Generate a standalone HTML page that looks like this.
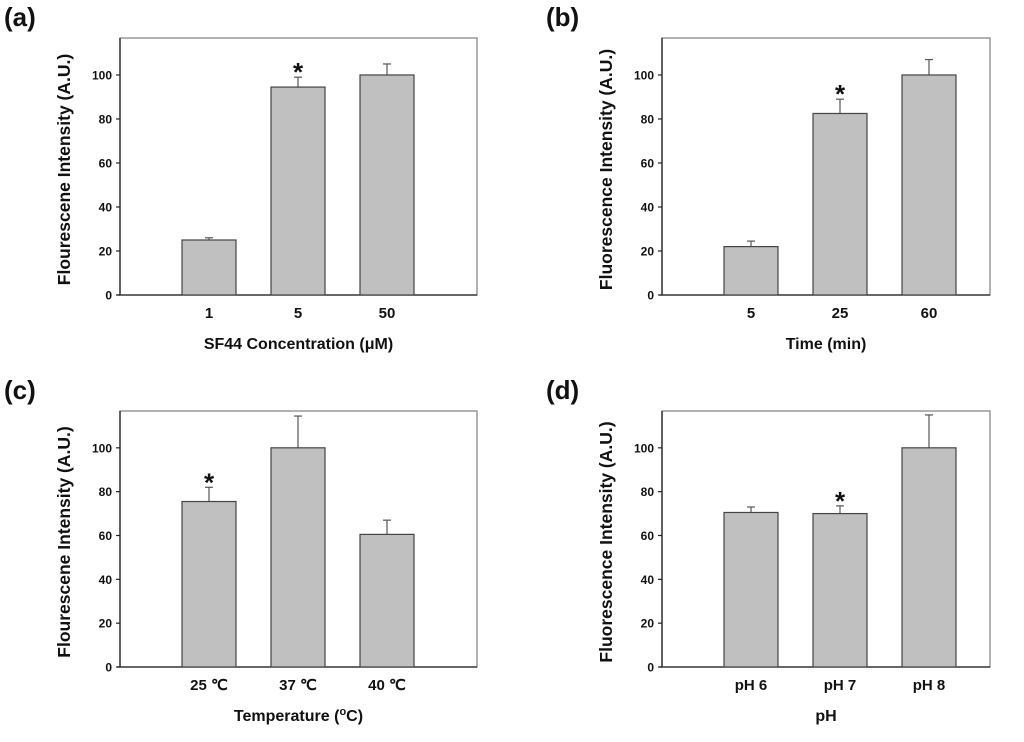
<!DOCTYPE html>
<html><head><meta charset="utf-8"><style>
body{margin:0;background:#fff;}
svg text{font-family:"Liberation Sans",Arial,sans-serif;font-weight:bold;fill:#111;}
</style></head><body>
<svg id="fig" width="1024" height="737" viewBox="0 0 1024 737" xmlns="http://www.w3.org/2000/svg"></svg>
<script>
const catsA=["1","5","50"], valsA=[25,94.5,100], errA=[1,4.5,5], starA=[false,true,false];
const catsB=["5","25","60"], valsB=[22,82.5,100], errB=[2.5,6.5,7], starB=[false,true,false];
const catsC=["25 ℃","37 ℃","40 ℃"], valsC=[75.5,100,60.5], errC=[6.5,14.5,6.5], starC=[true,false,false];
const catsD=["pH 6","pH 7","pH 8"], valsD=[70.5,70,100], errD=[2.5,3.5,15], starD=[false,true,false];
const yTicks=[0,20,40,60,80,100];

const NS="http://www.w3.org/2000/svg";
const svg=document.getElementById('fig');
function mk(tag,attrs,parent,text){const e=document.createElementNS(NS,tag);for(const k in attrs)e.setAttribute(k,attrs[k]);if(text!==undefined)e.textContent=text;(parent||svg).appendChild(e);return e;}

function panel(id,letter,lx,ly,x0,x1,yTop,yBot,cats,vals,errs,stars,ytitle,xtitle,sup){
  const g=mk('g',{});
  
  
  const yMax=116.8;
  const ys=v=>yBot-(v/yMax)*(yBot-yTop);
  const slot=89, bw=54, first=x0+62;
  const xs=i=>first+i*slot;
  const lab=mk('text',{x:lx,y:ly,'font-size':26},g,letter);
  
  
  const frame=mk('rect',{x:x0,y:yTop,width:x1-x0,height:yBot-yTop,fill:'none',stroke:'#888','stroke-width':1.3},g);
  
  
  mk('line',{x1:x0,y1:yTop,x2:x0,y2:yBot,stroke:'#222','stroke-width':1.3},g);
  mk('line',{x1:x0-3,y1:yBot,x2:x1,y2:yBot,stroke:'#222','stroke-width':1.3},g);
  yTicks.forEach(t=>{
    mk('line',{x1:x0-4,y1:ys(t),x2:x0,y2:ys(t),stroke:'#222','stroke-width':1.2},g);
    const tl=mk('text',{x:x0-8,y:ys(t)+4.5,'font-size':12,'text-anchor':'end'},g,String(t));
    
    
  });
  vals.forEach((v,i)=>{
    const xl=xs(i), top=ys(v), et=ys(v+errs[i]), cx=xl+bw/2;
    mk('line',{x1:cx,y1:top,x2:cx,y2:et,stroke:'#555','stroke-width':1.2},g);
    mk('line',{x1:cx-4,y1:et,x2:cx+4,y2:et,stroke:'#555','stroke-width':1.2},g);
    const b=mk('rect',{x:xl,y:top,width:bw,height:yBot-top,fill:'#c0c0c0',stroke:'#444','stroke-width':1.2},g);
    
    
    if(stars[i]){const s=mk('text',{x:cx,y:et+4,'font-size':26,'text-anchor':'middle'},g,'*');
      
      }
    const xl2=mk('text',{x:cx,y:yBot+23,'font-size':15,'text-anchor':'middle'},g,cats[i]);
    
    
  });
  const cy=(yTop+yBot)/2+3;
  const yt=mk('text',{x:x0-50,y:cy,'font-size':17.5,'text-anchor':'middle',transform:`rotate(-90 ${x0-50} ${cy})`},g,ytitle);
  
  
  const xt=mk('text',{x:(x0+x1)/2,y:yBot+54,'font-size':16,'text-anchor':'middle'},g);
  
  
  if(sup){xt.textContent='Temperature (';mk('tspan',{dy:-6,'font-size':11},xt,'o');mk('tspan',{dy:6},xt,'C)');}
  else xt.textContent=xtitle;
}
panel('a','(a)',4,26,120,477,38,295,catsA,valsA,errA,starA,'Flourescene Intensity (A.U.)','SF44 Concentration (μM)');
panel('b','(b)',546,26,662,990,38,295,catsB,valsB,errB,starB,'Fluorescence Intensity (A.U.)','Time (min)');
panel('c','(c)',4,399,120,477,411,667,catsC,valsC,errC,starC,'Flourescene Intensity (A.U.)','',true);
panel('d','(d)',546,399,662,990,411,667,catsD,valsD,errD,starD,'Fluorescence Intensity (A.U.)','pH');
</script>
</body></html>
